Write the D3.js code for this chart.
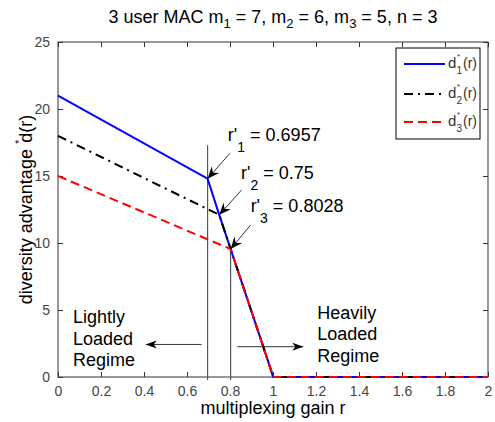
<!DOCTYPE html>
<html><head><meta charset="utf-8">
<script src="https://cdn.jsdelivr.net/npm/d3@7"></script>
<style>body{margin:0;background:#fff}svg{display:block}text{font-family:Arial,"Liberation Sans",sans-serif}</style>
</head><body>
<script>
// ---- data ----
const xTicks = [0,0.2,0.4,0.6,0.8,1,1.2,1.4,1.6,1.8,2];
const yTicks = [0,5,10,15,20,25];
const rBlue  = [0, 0.6957, 0.75, 0.8028, 0.955, 0.99, 1.0, 2];
const dBlue  = [21, 14.8, 12.1, 9.55, 2.25, 0.55, 0, 0];
const rBlack = [0, 0.75, 0.8028, 0.955, 0.99, 1.0, 2];
const dBlack = [18, 12.1, 9.55, 2.25, 0.55, 0, 0];
const rRed   = [0, 0.8028, 0.955, 0.99, 1.0, 2];
const dRed   = [15, 9.55, 2.25, 0.55, 0, 0];
const breakR = [0.6957, 0.75, 0.8028];
const breakD = [14.8, 12.1, 9.55];
const breakLabels = ["0.6957", "0.75", "0.8028"];
const breakTailR = [0.80, 0.854, 0.896];
const breakTailD = [16.7, 13.96, 11.34];
const seriesNames = ["1","2","3"];

const W=495,H=422, L=58,R=488,T=42,B=377;
const svg=d3.select("body").append("svg").attr("width",W).attr("height",H);
const x=d3.scaleLinear().domain([0,2]).range([L,R]);
const y=d3.scaleLinear().domain([0,25]).range([B,T]);
const ax="#333";

const defs=svg.append("defs");
defs.append("marker").attr("id","ah").attr("markerUnits","userSpaceOnUse")
 .attr("viewBox","-12 -6 13 12").attr("refX",0).attr("refY",0)
 .attr("markerWidth",13).attr("markerHeight",12).attr("orient","auto")
 .append("path").attr("d","M0,0 L-12,-5 L-8,0 L-12,5 Z").attr("fill","#000");
defs.append("marker").attr("id","ah2").attr("markerUnits","userSpaceOnUse")
 .attr("viewBox","-12 -5 13 10").attr("refX",0).attr("refY",0)
 .attr("markerWidth",13).attr("markerHeight",10).attr("orient","auto")
 .append("path").attr("d","M0,0 L-11,-4 L-8,0 L-11,4 Z").attr("fill","#000");

// axes box
svg.append("rect").attr("x",L).attr("y",T).attr("width",R-L).attr("height",B-T)
 .attr("fill","none").attr("stroke",ax).attr("stroke-width",1);
const tl=5;
const gx=svg.append("g").attr("transform",`translate(0,${B})`)
 .call(d3.axisBottom(x).tickValues(xTicks).tickSize(-tl).tickPadding(9).tickFormat(d=>String(d)));
const gxt=svg.append("g").attr("transform",`translate(0,${T})`)
 .call(d3.axisTop(x).tickValues(xTicks).tickSize(-tl).tickFormat(""));
const gy=svg.append("g").attr("transform",`translate(${L},0)`)
 .call(d3.axisLeft(y).tickValues(yTicks).tickSize(-tl).tickPadding(8));
const gyr=svg.append("g").attr("transform",`translate(${R},0)`)
 .call(d3.axisRight(y).tickValues(yTicks).tickSize(-tl).tickFormat(""));
[gx,gxt,gy,gyr].forEach(g=>{
  g.select(".domain").remove();
  g.selectAll("line").attr("stroke",ax);
  g.selectAll("text").attr("fill","#444").style("font-size","14px").style("font-family","Arial");
});

// vertical regime lines
svg.append("line").attr("x1",x(breakR[0])).attr("x2",x(breakR[0])).attr("y1",y(0)+3).attr("y2",y(17.3))
 .attr("stroke","#555").attr("stroke-width",1.2);
svg.append("line").attr("x1",x(breakR[2])).attr("x2",x(breakR[2])).attr("y1",y(0)+3).attr("y2",y(breakD[2]))
 .attr("stroke","#555").attr("stroke-width",1.2);

// series
const line=d3.line().x(d=>x(d[0])).y(d=>y(d[1]));
const series=[
 {r:rBlue,d:dBlue,c:"#0000ff",dash:null},
 {r:rBlack,d:dBlack,c:"#000000",dash:"9,5,2,5"},
 {r:rRed,d:dRed,c:"#ff0000",dash:"9,5"}
];
series.forEach(s=>{
  svg.append("path").datum(s.r.map((v,i)=>[v,s.d[i]])).attr("d",line)
   .attr("fill","none").attr("stroke",s.c).attr("stroke-width",2).attr("stroke-dasharray",s.dash);
});

// annotations r'_i
const labelPos=[[0.79,17.6],[0.851,14.74],[0.896,12.3]];
breakR.forEach((br,i)=>{
  svg.append("line").attr("x1",x(breakTailR[i])).attr("y1",y(breakTailD[i]))
   .attr("x2",x(br)).attr("y2",y(breakD[i])).attr("stroke","#000").attr("stroke-width",0.8)
   .attr("marker-end","url(#ah)");
  const t=svg.append("text").attr("x",x(labelPos[i][0])).attr("y",y(labelPos[i][1]))
   .style("font-size","18px").attr("fill","#000");
  t.append("tspan").text("r'");
  t.append("tspan").attr("dy",11).style("font-size","14px").text(seriesNames[i]);
  t.append("tspan").attr("dy",-11).text(" = "+breakLabels[i]);
});

// regime arrows
svg.append("line").attr("x1",x(0.668)).attr("x2",x(0.408)).attr("y1",y(2.43)).attr("y2",y(2.43))
 .attr("stroke","#333").attr("stroke-width",1).attr("marker-end","url(#ah2)");
svg.append("line").attr("x1",x(0.834)).attr("x2",x(1.141)).attr("y1",y(2.26)).attr("y2",y(2.26))
 .attr("stroke","#333").attr("stroke-width",1).attr("marker-end","url(#ah2)");
const lightly=["Lightly","Loaded","Regime"], heavily=["Heavily","Loaded","Regime"];
const lt=svg.append("text").attr("x",x(0.07)).attr("y",323).style("font-size","18px").attr("fill","#000");
lightly.forEach((w,i)=>lt.append("tspan").attr("x",x(0.07)).attr("dy",i?21.5:0).text(w));
const ht=svg.append("text").attr("x",x(1.206)).attr("y",318.5).style("font-size","18px").attr("fill","#000");
heavily.forEach((w,i)=>ht.append("tspan").attr("x",x(1.206)).attr("dy",i?21.7:0).text(w));

// title
const title=svg.append("text").attr("x",(L+R)/2).attr("y",23).attr("text-anchor","middle")
 .style("font-size","18px").attr("fill","#000");
title.append("tspan").text("3 user MAC m");
const mVals=["7","6","5"];
mVals.forEach((v,i)=>{
  title.append("tspan").attr("dy",5).style("font-size","13px").text(String(i+1));
  title.append("tspan").attr("dy",-5).text(" = "+v+", "+(i<2?"m":"n = 3"));
});

// axis labels
svg.append("text").attr("x",(L+R)/2).attr("y",414).attr("text-anchor","middle")
 .style("font-size","18px").attr("fill","#000").text("multiplexing gain r");
const yl=svg.append("text").attr("transform",`translate(32,${(T+B)/2}) rotate(-90)`)
 .attr("text-anchor","middle").style("font-size","18px").attr("fill","#000");
yl.append("tspan").text("diversity advantage ");
yl.append("tspan").attr("dy",-9).style("font-size","11px").text("*");
yl.append("tspan").attr("dy",9).attr("dx",-3).text("d(r)");

// legend
const lg=svg.append("g");
lg.append("rect").attr("x",396).attr("y",48).attr("width",84).attr("height",91)
 .attr("fill","#fff").attr("stroke","#000").attr("stroke-width",1);
const legY=[64,94,122];
series.forEach((s,i)=>{
  lg.append("line").attr("x1",404).attr("x2",445).attr("y1",legY[i]).attr("y2",legY[i])
   .attr("stroke",s.c).attr("stroke-width",2).attr("stroke-dasharray",s.dash);
  lg.append("text").attr("x",448).attr("y",legY[i]+4).style("font-size","15px").attr("fill","#333").text("d");
  lg.append("text").attr("x",457).attr("y",legY[i]-5).style("font-size","8px").attr("fill","#333").text("*");
  lg.append("text").attr("x",456.5).attr("y",legY[i]+10).style("font-size","10px").attr("fill","#333").text(seriesNames[i]);
  lg.append("text").attr("x",463).attr("y",legY[i]+4).style("font-size","14px").attr("fill","#333").text("(r)");
});
</script>
</body></html>
